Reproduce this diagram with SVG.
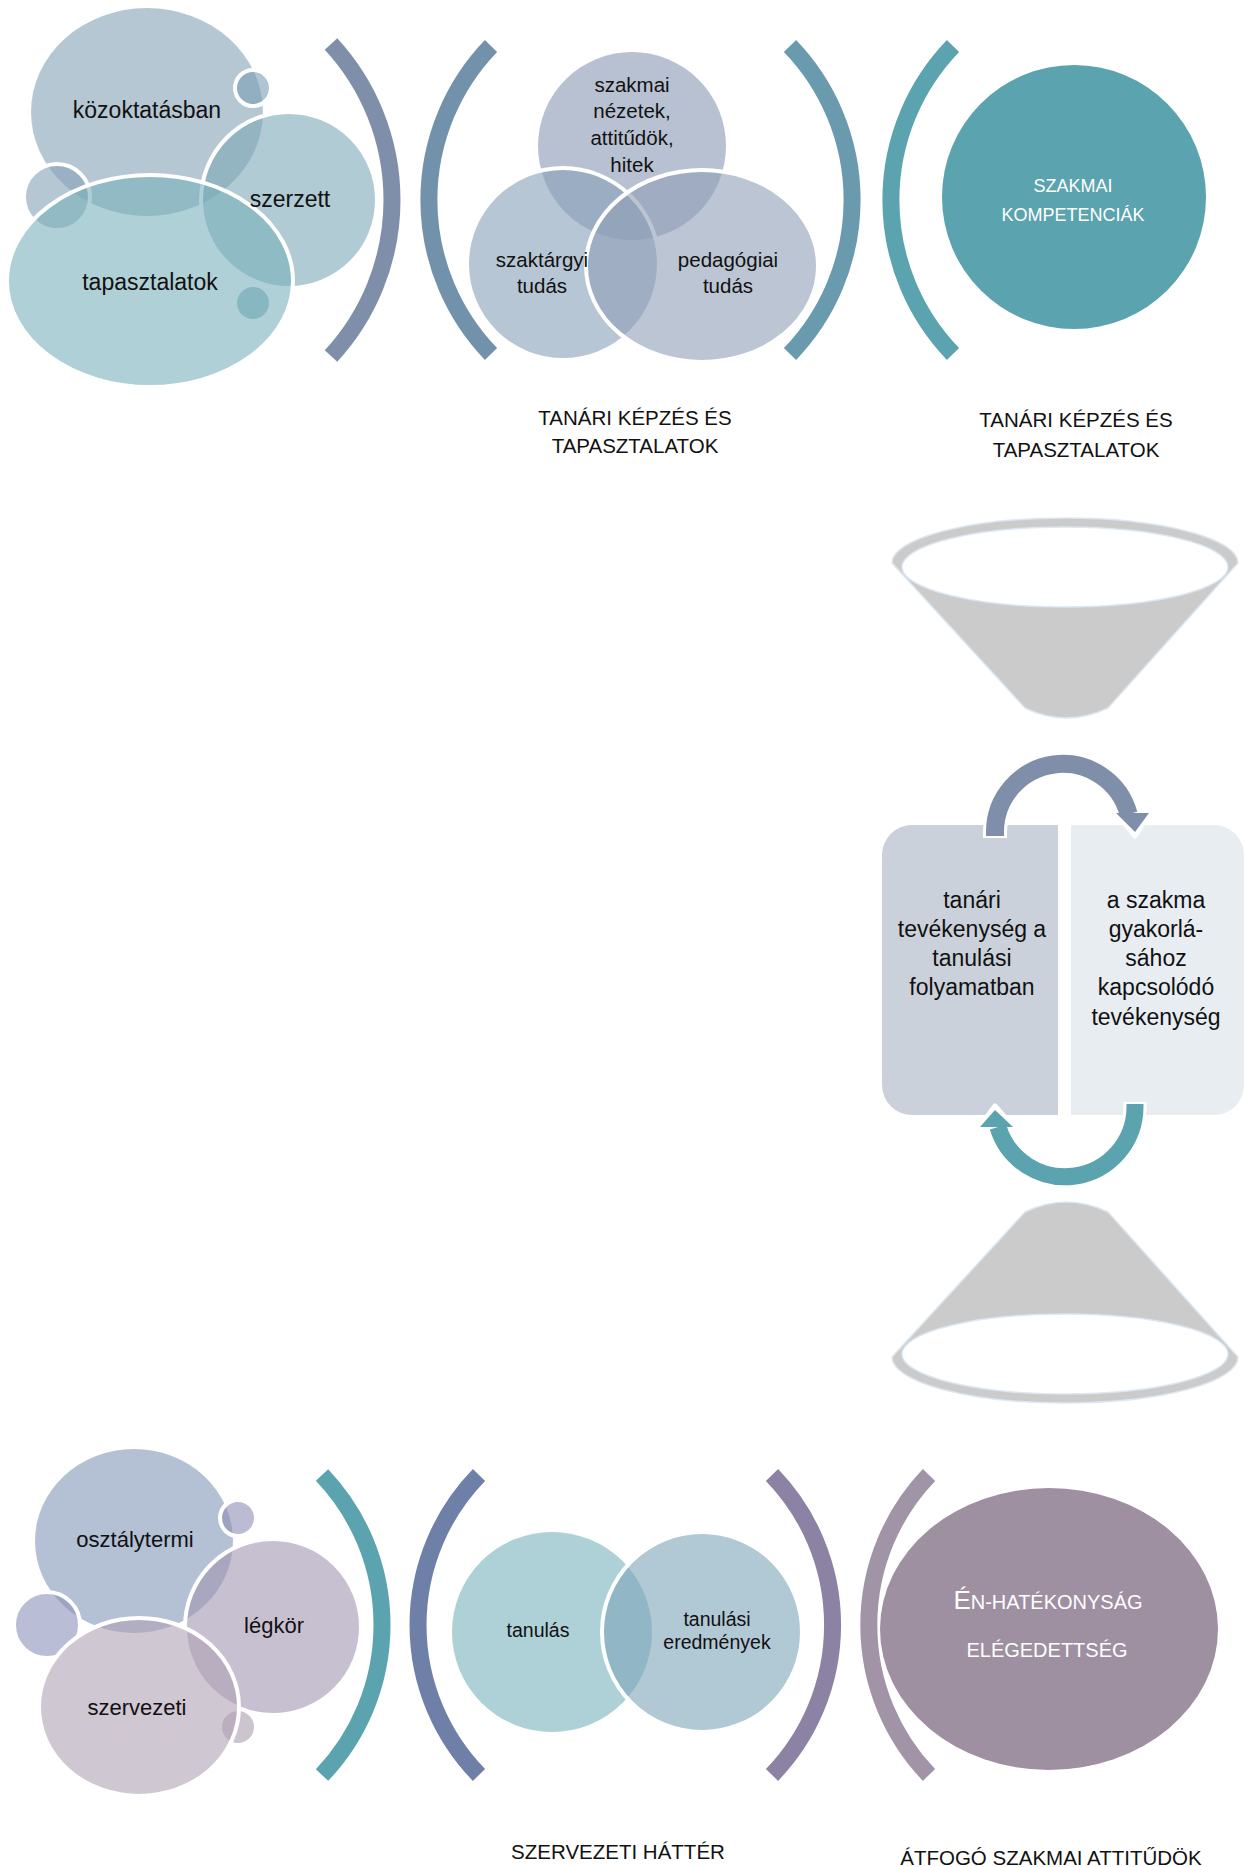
<svg xmlns="http://www.w3.org/2000/svg" width="1245" height="1867" viewBox="0 0 1245 1867">
<style>
.t{font-family:"Liberation Sans",Arial,sans-serif;fill:#111;text-anchor:middle}
.w{font-family:"Liberation Sans",Arial,sans-serif;fill:#fff;text-anchor:middle}
.br{fill:none;stroke-width:17;stroke-linecap:butt}
.bub{fill-opacity:0.6;stroke:#fff;stroke-width:4}
.ven{fill-opacity:0.6;stroke:#fff;stroke-width:4}
.fun{fill:#cbcbcb;stroke:#dce7f1;stroke-width:1.5}
.fin{fill:#fff;stroke:#dce7f1;stroke-width:1.5}
</style>
<rect width="1245" height="1867" fill="#fff"/>

<g id="brackets">
<path class="br" stroke="#7f8fa9" d="M 331 44 A 230 230 0 0 1 331 356"/>
<path class="br" stroke="#7292ab" d="M 491 46 A 222 222 0 0 0 491 354"/>
<path class="br" stroke="#6a9aae" d="M 790 46 A 222 222 0 0 1 790 354"/>
<path class="br" stroke="#5ba3ae" d="M 953 46 A 222 222 0 0 0 953 354"/>
<path class="br" stroke="#5ba3ae" d="M 322 1475 A 217.5 217.5 0 0 1 322 1775"/>
<path class="br" stroke="#6e7fa8" d="M 479 1475 A 215 215 0 0 0 479 1775"/>
<path class="br" stroke="#8c82a3" d="M 772 1475 A 216 216 0 0 1 772 1775"/>
<path class="br" stroke="#a094a6" d="M 929 1475 A 217 217 0 0 0 929 1775"/>
</g>

<g id="tapasztalatok-cluster">
<ellipse cx="147" cy="112" rx="116" ry="104" fill="#85a2b7" fill-opacity="0.6"/>
<circle class="bub" cx="253" cy="88" r="18" fill="#7a9fb5"/>
<circle class="bub" cx="289" cy="200" r="88" fill="#7ba8b6"/>
<circle class="bub" cx="57" cy="197" r="33" fill="#85a2b7"/>
<circle class="bub" cx="253" cy="303" r="18" fill="#5f9aaa"/>
<ellipse class="bub" cx="150" cy="281" rx="143" ry="106" fill="#78b1bb"/>
<text class="t" x="147" y="118" font-size="23" fill="#000">közoktatásban</text>
<text class="t" x="290" y="207" font-size="23" fill="#000">szerzett</text>
<text class="t" x="150" y="290" font-size="23" fill="#000">tapasztalatok</text>
</g>

<g id="tanari-venn">
<circle cx="632" cy="146" r="94" fill="#8c9bb4" fill-opacity="0.62"/>
<circle class="ven" cx="563" cy="264" r="96" fill="#87a0b8" fill-opacity="0.62"/>
<ellipse class="ven" cx="702" cy="266" rx="116" ry="96" fill="#8f9fb6" fill-opacity="0.62"/>
<text class="t" font-size="20.5"><tspan x="632" y="92">szakmai</tspan><tspan x="632" y="118">nézetek,</tspan><tspan x="632" y="145">attitűdök,</tspan><tspan x="632" y="172">hitek</tspan></text>
<text class="t" font-size="20.5"><tspan x="542" y="267">szaktárgyi</tspan><tspan x="542" y="293">tudás</tspan></text>
<text class="t" font-size="20.5"><tspan x="728" y="267">pedagógiai</tspan><tspan x="728" y="293">tudás</tspan></text>
<text class="t" font-size="20.5" fill="#000"><tspan x="635" y="425">TANÁRI KÉPZÉS ÉS</tspan><tspan x="635" y="453">TAPASZTALATOK</tspan></text>
</g>

<g id="szakmai-kompetenciak">
<circle cx="1074" cy="197" r="132" fill="#5ba3ae"/>
<text class="w" font-size="18"><tspan x="1073" y="192">SZAKMAI</tspan><tspan x="1073" y="221">KOMPETENCIÁK</tspan></text>
<text class="t" font-size="20.5" fill="#000"><tspan x="1076" y="427">TANÁRI KÉPZÉS ÉS</tspan><tspan x="1076" y="457">TAPASZTALATOK</tspan></text>
</g>

<g id="funnel-top">
<path class="fun" d="M 892 563 L 1025 708 Q 1066 728 1108 708 L 1238 563 A 173 45 0 0 0 892 563 Z"/>
<ellipse class="fin" cx="1065" cy="567" rx="163" ry="40"/>
</g>

<g id="funnel-bottom">
<path class="fun" d="M 892 1357 L 1025 1212 Q 1066 1192 1108 1212 L 1238 1357 A 173 46 0 0 1 892 1357 Z"/>
<ellipse class="fin" cx="1065" cy="1354" rx="163" ry="40"/>
</g>

<g id="box-tanari">
<path d="M 912 825 H 1058 V 1115 H 912 A 30 30 0 0 1 882 1085 V 855 A 30 30 0 0 1 912 825 Z" fill="#cbd1db"/>
<text class="t" font-size="23" fill="#222"><tspan x="972" y="908">tanári</tspan><tspan x="972" y="937">tevékenység a</tspan><tspan x="972" y="966">tanulási</tspan><tspan x="972" y="995">folyamatban</tspan></text>
</g>

<g id="box-szakma">
<path d="M 1071 825 H 1214 A 30 30 0 0 1 1244 855 V 1085 A 30 30 0 0 1 1214 1115 H 1071 Z" fill="#e8edf1"/>
<text class="t" font-size="23" fill="#222"><tspan x="1156" y="908">a szakma</tspan><tspan x="1156" y="937">gyakorlá-</tspan><tspan x="1156" y="966">sához</tspan><tspan x="1156" y="995">kapcsolódó</tspan><tspan x="1156" y="1025">tevékenység</tspan></text>
</g>

<g id="connectors">
<path d="M 995 838 L 995 832 A 68 68 0 0 1 1128.6 814" fill="none" stroke="#fff" stroke-width="24"/>
<polygon points="1114,811 1151,811 1135,836" fill="#fff" stroke="#fff" stroke-width="5" stroke-linejoin="round"/>
<path d="M 995 836 L 995 832 A 68 68 0 0 1 1128.6 814" fill="none" stroke="#7f8fa9" stroke-width="18"/>
<polygon points="1116,813 1149,813 1135,832" fill="#7f8fa9"/>

<path d="M 1135 1102 L 1135 1107 A 70 70 0 0 1 998 1127" fill="none" stroke="#fff" stroke-width="23"/>
<polygon points="978,1129 1015,1129 995,1106" fill="#fff" stroke="#fff" stroke-width="5" stroke-linejoin="round"/>
<path d="M 1135 1104 L 1135 1107 A 70 70 0 0 1 998 1127" fill="none" stroke="#5ba3ae" stroke-width="17"/>
<polygon points="980,1127 1013,1127 995,1110" fill="#5ba3ae"/>
</g>

<g id="szervezeti-cluster">
<ellipse cx="134" cy="1541" rx="99" ry="92" fill="#8296b7" fill-opacity="0.6"/>
<circle class="bub" cx="238" cy="1518" r="18" fill="#8e8eb6"/>
<circle class="bub" cx="273" cy="1627" r="88" fill="#a296b2"/>
<circle class="bub" cx="47" cy="1625" r="33" fill="#8a91b9"/>
<circle class="bub" cx="238" cy="1727" r="18" fill="#aa9daf"/>
<ellipse class="bub" cx="139" cy="1707" rx="100" ry="89" fill="#afa2b4"/>
<text class="t" x="135" y="1547" font-size="22" fill="#000">osztálytermi</text>
<text class="t" x="274" y="1633" font-size="22" fill="#000">légkör</text>
<text class="t" x="137" y="1715" font-size="22" fill="#000">szervezeti</text>
</g>

<g id="szervezeti-venn">
<circle cx="552" cy="1632" r="100" fill="#78b2bc" fill-opacity="0.6"/>
<circle class="ven" cx="702" cy="1632" r="100" fill="#7da3b9" fill-opacity="0.6"/>
<text class="t" x="538" y="1637" font-size="19.5" fill="#222">tanulás</text>
<text class="t" font-size="19.5" fill="#222"><tspan x="717" y="1626">tanulási</tspan><tspan x="717" y="1649">eredmények</tspan></text>
<text class="t" x="618" y="1859" font-size="20.5" fill="#000">SZERVEZETI HÁTTÉR</text>
</g>

<g id="attitudok">
<ellipse cx="1049" cy="1629" rx="169" ry="141" fill="#9e8fa1"/>
<text class="w" x="1048" y="1609"><tspan font-size="26">É</tspan><tspan font-size="20">N-HATÉKONYSÁG</tspan></text>
<text class="w" x="1047" y="1657" font-size="20">ELÉGEDETTSÉG</text>
<text class="t" x="1051" y="1865" font-size="20.5" fill="#000">ÁTFOGÓ SZAKMAI ATTITŰDÖK</text>
</g>
</svg>
